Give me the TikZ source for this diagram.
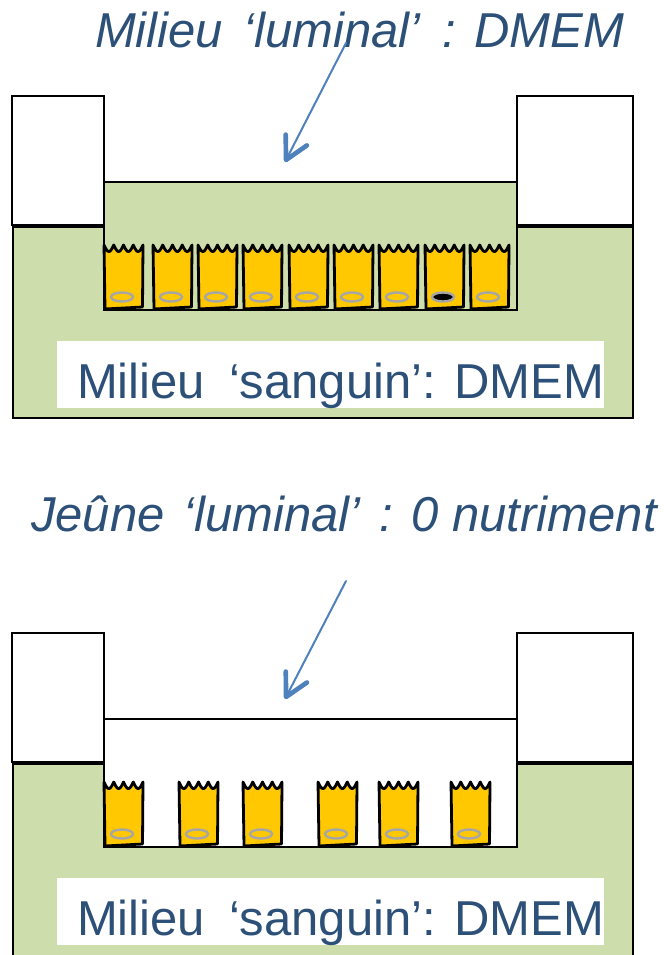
\documentclass[tikz,border=0pt]{standalone}
\usepackage{fontspec}
\setmainfont{Liberation Sans}
\usetikzlibrary{arrows.meta}
\definecolor{medium}{RGB}{205,221,172}
\definecolor{cellfill}{RGB}{255,200,0}
\definecolor{nucgray}{RGB}{166,166,166}
\definecolor{labelblue}{RGB}{44,80,120}
\definecolor{arrowblue}{RGB}{79,129,189}
\tikzset{
  wall/.style={draw=black, line width=1.1pt},
  caption/.style={text=labelblue, font=\fontsize{36.75}{40}\selectfont, inner sep=0pt, anchor=base},
  titletext/.style={caption, font=\fontsize{36.75}{40}\selectfont\itshape},
  pointer/.style={draw=arrowblue, line width=1.5pt, line cap=round,
    -{Straight Barb[angle=56:19pt, line width=3.5pt, round]}},
  % epithelial cell: wavy apical border (microvilli) and a basal nucleus
  cell/.pic={
    \filldraw[fill=cellfill, draw=black, line width=2.1pt, line join=round]
      (1,-1) -- (0,-65)
      -- plot[domain=0:39, samples=61, variable=\t] (\t,{-65+6.5*abs(sin(\t*180/9.75))})
      -- (38.5,-3) -- cycle;
    \draw[nucgray, line width=1.8pt, fill=#1] (18,-13) ellipse [x radius=11, y radius=4.5];
  },
}
\begin{document}
\begin{tikzpicture}[x=0.75pt, y=-0.75pt]
\useasboundingbox (0,0) rectangle (663,955);
\clip (0,0) rectangle (663,955);
\fill[white] (0,0) rectangle (663,955);

% ---- fed condition: DMEM on both sides ----
\filldraw[wall, fill=medium] (13,227) rectangle (633,418);
\filldraw[wall, fill=white] (12,96) rectangle (104,225);
\filldraw[wall, fill=white] (517,96) rectangle (633,225);
\filldraw[wall, fill=medium] (104,182) rectangle (517,310);
\fill[white] (57,341) rectangle (604,408);
\node[caption] (blood1) at (340.5,398) {Milieu\hspace{.49em}‘sanguin’: DMEM};
\foreach \x/\n in {104/none,153/none,198/none,243/none,289/none,334/none,379/none,425/black,470/none}
  \pic at (\x,310) {cell=\n};
\node[titletext] (lum1) at (359.5,48) {Milieu\hspace{.42em}‘luminal’\hspace{.17em} : DMEM};
\coordinate (a1s) at (346,43);
\coordinate (a1e) at (285,162);
\draw[pointer] (a1s) -- (a1e);

% ---- luminal fasting: no nutrient on the apical side ----
\begin{scope}[shift={(0,537)}]
\filldraw[wall, fill=medium] (13,227) rectangle (633,440);
\filldraw[wall, fill=white] (12,96) rectangle (104,225);
\filldraw[wall, fill=white] (517,96) rectangle (633,225);
\filldraw[wall, fill=white] (104,182) rectangle (517,310);
\fill[white] (57,341) rectangle (604,408);
\node[caption] (blood2) at (340.5,398) {Milieu\hspace{.49em}‘sanguin’: DMEM};
\foreach \x in {104,179,243,318,379,451}
  \pic at (\x,310) {cell=none};
\coordinate (a2s) at (346,44);
\coordinate (a2e) at (285,162);
\draw[pointer] (a2s) -- (a2e);
\end{scope}
\node[titletext] (lum2) at (344,531) {Jeûne\hspace{.38em}‘luminal’\hspace{.12em} : 0 nutriment};
\end{tikzpicture}
\end{document}
